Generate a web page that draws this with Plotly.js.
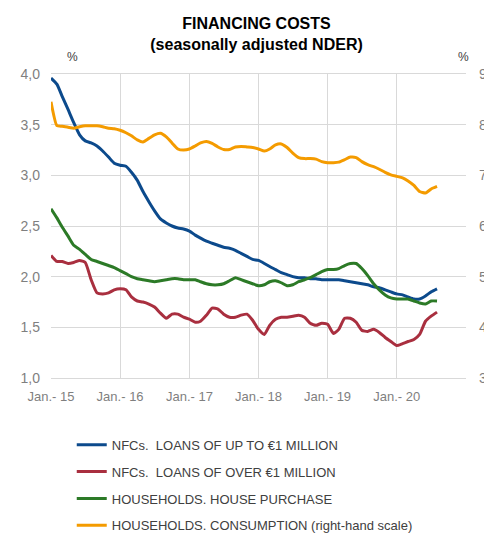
<!DOCTYPE html>
<html>
<head>
<meta charset="utf-8">
<script src="https://cdn.plot.ly/plotly-3.0.1.min.js"></script>
<style>
  body { margin: 0; background: #fff; }
  #chart { width: 484px; height: 536px; }
</style>
</head>
<body>
<div id="chart"></div>
<script>
// monthly, Jan 2015 .. Aug 2020
var months = [];
for (var yr = 2015; yr <= 2020; yr++) {
  for (var mo = 1; mo <= 12; mo++) {
    if (yr === 2020 && mo > 8) break;
    months.push(yr + "-" + (mo < 10 ? "0" + mo : mo) + "-01");
  }
}

var nfcSmall = [3.96, 3.90, 3.78, 3.65, 3.52, 3.40, 3.34, 3.32, 3.29, 3.24, 3.18, 3.12,
  3.10, 3.09, 3.03, 2.95, 2.84, 2.74, 2.65, 2.57, 2.53, 2.50, 2.48, 2.47,
  2.45, 2.41, 2.38, 2.35, 2.33, 2.31, 2.29, 2.28, 2.26, 2.23, 2.20, 2.17,
  2.16, 2.13, 2.10, 2.07, 2.04, 2.02, 2.00, 1.99, 1.99, 1.98, 1.98, 1.97,
  1.97, 1.97, 1.97, 1.96, 1.95, 1.94, 1.93, 1.92, 1.90, 1.89, 1.87, 1.85,
  1.83, 1.82, 1.80, 1.78, 1.78, 1.81, 1.85, 1.88];

var nfcLarge = [2.21, 2.15, 2.15, 2.13, 2.14, 2.16, 2.14, 1.97, 1.84, 1.83, 1.84, 1.87,
  1.88, 1.87, 1.80, 1.76, 1.75, 1.73, 1.70, 1.64, 1.59, 1.63, 1.63, 1.60,
  1.58, 1.55, 1.56, 1.62, 1.69, 1.68, 1.63, 1.60, 1.60, 1.62, 1.63, 1.57,
  1.48, 1.43, 1.52, 1.58, 1.60, 1.60, 1.61, 1.62, 1.60, 1.54, 1.52, 1.54,
  1.53, 1.44, 1.48, 1.59, 1.59, 1.55, 1.47, 1.46, 1.48, 1.45, 1.40, 1.36,
  1.32, 1.34, 1.36, 1.38, 1.43, 1.56, 1.61, 1.65];

var housePurchase = [2.67, 2.58, 2.49, 2.40, 2.31, 2.27, 2.22, 2.17, 2.15, 2.13, 2.11, 2.09,
  2.06, 2.03, 2.00, 1.98, 1.97, 1.96, 1.95, 1.96, 1.97, 1.98, 1.98, 1.97,
  1.97, 1.97, 1.95, 1.93, 1.92, 1.92, 1.93, 1.96, 1.99, 1.97, 1.95, 1.93,
  1.91, 1.92, 1.95, 1.96, 1.94, 1.91, 1.92, 1.95, 1.97, 1.99, 2.02, 2.05,
  2.07, 2.07, 2.08, 2.11, 2.13, 2.13, 2.08, 2.01, 1.93, 1.87, 1.82, 1.79,
  1.78, 1.78, 1.78, 1.76, 1.74, 1.73, 1.76, 1.76];

var consumption = [8.45, 7.98, 7.97, 7.95, 7.93, 7.96, 7.98, 7.98, 7.98, 7.96, 7.93, 7.92,
  7.89, 7.84, 7.78, 7.70, 7.66, 7.73, 7.80, 7.83, 7.76, 7.64, 7.52, 7.50,
  7.52, 7.58, 7.64, 7.67, 7.63, 7.56, 7.51, 7.51, 7.56, 7.57, 7.56, 7.55,
  7.52, 7.48, 7.52, 7.60, 7.62, 7.55, 7.44, 7.35, 7.33, 7.33, 7.32, 7.27,
  7.25, 7.25, 7.26, 7.31, 7.36, 7.35, 7.27, 7.21, 7.17, 7.12, 7.06, 7.01,
  6.98, 6.95, 6.89, 6.80, 6.68, 6.65, 6.73, 6.78];

var yearTicks = ["2015-01-01", "2016-01-01", "2017-01-01", "2018-01-01", "2019-01-01", "2020-01-01"];
var yearLabels = ["Jan.- 15", "Jan.- 16", "Jan.- 17", "Jan.- 18", "Jan.- 19", "Jan.- 20"];

var seriesNames = [
  "NFCs.  LOANS OF UP TO €1 MILLION",
  "NFCs.  LOANS OF OVER €1 MILLION",
  "HOUSEHOLDS. HOUSE PURCHASE",
  "HOUSEHOLDS. CONSUMPTION (right-hand scale)"
];
var colors = ["#0c4a8c", "#a92f3f", "#2c7a27", "#f49b00"];

function lineTrace(y, i, axis) {
  return {
    x: months,
    y: y,
    name: seriesNames[i],
    type: "scatter",
    mode: "lines",
    yaxis: axis,
    legendgroup: "g" + i,
    line: { color: colors[i], width: 3, shape: "spline", smoothing: 0.5 }
  };
}

var data = [
  lineTrace(nfcSmall, 0, "y"),
  lineTrace(nfcLarge, 1, "y"),
  lineTrace(housePurchase, 2, "y"),
  lineTrace(consumption, 3, "y2")
];

var grey = "#7f7f7f";
var gridCol = "#d9d9d9";

var layout = {
  width: 484,
  height: 536,
  margin: { l: 51, r: 18, t: 74, b: 158, autoexpand: false },
  paper_bgcolor: "#fff",
  plot_bgcolor: "#fff",
  font: { family: "Liberation Sans, Arial, sans-serif", size: 13, color: grey },
  separators: ",.",
  showlegend: true,
  title: {
    text: "<b>FINANCING COSTS</b><br><b>(seasonally adjusted NDER)</b>",
    font: { size: 16, color: "#000" },
    x: 0.53, xanchor: "center",
    yref: "container",
    y: 0.945, yanchor: "middle"
  },
  xaxis: {
    type: "date",
    range: ["2015-01-01", "2021-01-01"],
    tickvals: yearTicks,
    ticktext: yearLabels,
    showgrid: true,
    gridcolor: gridCol,
    showline: true,
    mirror: true,
    linecolor: gridCol,
    zeroline: false,
    ticks: "",
    ticklabelstandoff: 6,
    tickfont: { size: 13, color: grey },
    fixedrange: true
  },
  yaxis: {
    range: [1, 4],
    dtick: 0.5,
    tickformat: ".1f",
    showgrid: true,
    gridcolor: gridCol,
    zeroline: false,
    ticks: "",
    ticklabelstandoff: 10,
    tickfont: { size: 14, color: grey },
    fixedrange: true
  },
  yaxis2: {
    range: [3, 9],
    dtick: 1,
    overlaying: "y",
    side: "right",
    showgrid: false,
    zeroline: false,
    ticks: "",
    ticklabelstandoff: 12,
    tickfont: { size: 14, color: grey },
    fixedrange: true
  },
  legend: {
    x: 0.05, xanchor: "left",
    y: -0.17, yanchor: "top",
    orientation: "v",
    traceorder: "grouped",
    tracegroupgap: 7,
    font: { size: 13, color: "#404040" },
    bgcolor: "rgba(0,0,0,0)"
  },
  annotations: [
    { text: "%", xref: "paper", yref: "paper", x: 0.053, y: 1.055, xanchor: "center", yanchor: "middle",
      showarrow: false, font: { size: 12, color: "#404040" } },
    { text: "%", xref: "paper", yref: "paper", x: 0.995, y: 1.055, xanchor: "center", yanchor: "middle",
      showarrow: false, font: { size: 12, color: "#404040" } }
  ]
};

Plotly.newPlot("chart", data, layout, { displayModeBar: false, staticPlot: true });
</script>
</body>
</html>
